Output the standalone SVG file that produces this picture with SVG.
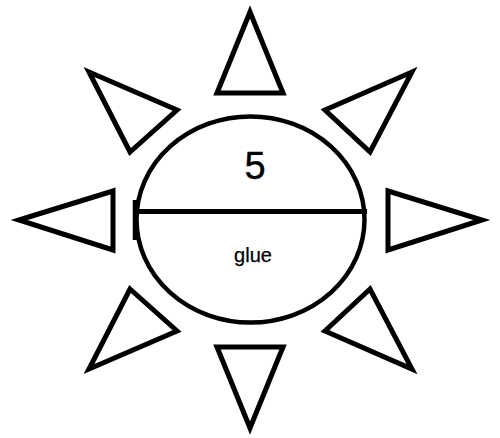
<svg xmlns="http://www.w3.org/2000/svg" width="500" height="438" viewBox="0 0 500 438">
<style>
.ray{fill:#fff;stroke:#000;stroke-width:5;stroke-linejoin:miter}
.body{fill:#fff;stroke:#000;stroke-width:4.5}
.bar{stroke:#000;fill:none}
.t{font-family:"Liberation Sans",Arial,sans-serif;fill:#000;text-anchor:middle}
</style>
<rect width="500" height="438" fill="#fff"/>
<g id="rays">
<polygon id="ray-n" class="ray" points="250,12 283,93 217,93"/>
<polygon id="ray-s" class="ray" points="217,347 283,347 250,428"/>
<polygon id="ray-w" class="ray" points="19,220 113,191 113,250"/>
<polygon id="ray-e" class="ray" points="388,191 482,220 388,250"/>
<polygon id="ray-nw" class="ray" points="89,72 177,110 130,152"/>
<polygon id="ray-ne" class="ray" points="412,72 325,110 370,152"/>
<polygon id="ray-sw" class="ray" points="130,289 177,331 89,369"/>
<polygon id="ray-se" class="ray" points="370,289 325,331 412,369"/>
</g>
<g id="sun">
<ellipse class="body" cx="250.5" cy="219.5" rx="114" ry="103"/>
<line class="bar" x1="134" y1="211.5" x2="367" y2="211.5" stroke-width="5"/>
<line class="bar" x1="135" y1="200" x2="135" y2="240" stroke-width="4.5"/>
<text class="t" x="255" y="178.5" font-size="38" stroke="#000" stroke-width="0.4">5</text>
<text class="t" x="253" y="262" font-size="20" stroke="#000" stroke-width="0.25">glue</text>
</g>
</svg>
